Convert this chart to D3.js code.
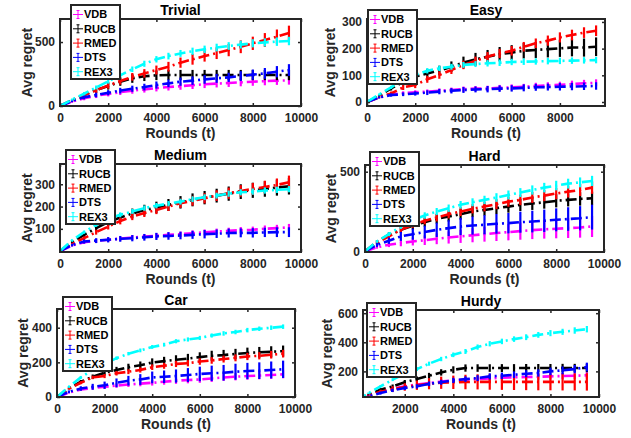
<!DOCTYPE html>
<html>
<head>
<meta charset="utf-8">
<script src="https://cdn.jsdelivr.net/npm/d3@7"></script>
<style>
body { margin: 0; background: #fff; }
text { font-family: "Liberation Sans", Arial, Helvetica, sans-serif; font-weight: bold; }
</style>
</head>
<body>
<svg id="fig" width="631" height="438"></svg>
<script>
"use strict";

// rounds at which the average regret was recorded
var rounds = [0, 500, 1000, 1500, 2000, 2500, 3000, 3500, 4000, 4500,
              5000, 5500, 6000, 6500, 7000, 7500, 8000, 8500, 9000, 9500];
var algorithms = ['VDB', 'RUCB', 'RMED', 'DTS', 'REX3'];

// one row per algorithm, same order as above
var trivialMean = [
    [0, 35, 60, 80, 95, 108, 120, 130, 140, 148, 155, 162, 170, 175, 180, 185, 190, 194, 198, 200],
    [0, 45, 86, 125, 156, 190, 216, 232, 240, 242, 242, 242, 242, 242, 242, 242, 242, 242, 242, 242],
    [0, 44, 85, 122, 160, 195, 228, 255, 281, 307, 339, 365, 391, 413, 437, 463, 490, 516, 542, 570],
    [0, 40, 68, 86, 104, 120, 135, 148, 164, 177, 190, 198, 208, 216, 224, 234, 245, 255, 268, 281],
    [0, 50, 96, 145, 193, 240, 287, 330, 365, 390, 411, 428, 443, 457, 469, 480, 490, 497, 503, 508]
];
var trivialErr = [
    [0, 10, 15, 18, 20, 22, 24, 25, 26, 27, 28, 29, 30, 30, 31, 31, 32, 32, 33, 33],
    [0, 10, 18, 24, 28, 32, 35, 37, 38, 40, 40, 40, 40, 40, 40, 40, 40, 40, 40, 40],
    [0, 10, 15, 20, 25, 28, 30, 33, 35, 38, 40, 42, 44, 46, 48, 50, 52, 54, 56, 58],
    [0, 10, 15, 18, 20, 22, 24, 26, 28, 30, 32, 33, 34, 35, 36, 38, 40, 42, 44, 46],
    [0, 8, 12, 15, 18, 20, 22, 24, 25, 26, 27, 28, 29, 30, 30, 31, 32, 32, 33, 33]
];

var easyMean = [
    [0, 18, 29, 33, 36, 39, 42, 45, 48, 50, 51, 53, 55, 57, 60, 62, 64, 67, 70, 72],
    [0, 22, 51, 75, 95, 107, 118, 132, 148, 160, 170, 179, 185, 192, 195, 198, 201, 204, 204, 207],
    [0, 18, 32, 55, 64, 85, 101, 120, 139, 154, 170, 182, 192, 207, 220, 230, 242, 251, 260, 267],
    [0, 17, 26, 29, 32, 35, 39, 42, 45, 47, 48, 50, 51, 53, 55, 56, 57, 58, 59, 60],
    [0, 28, 55, 82, 101, 117, 126, 132, 139, 142, 145, 147, 150, 151, 152, 153, 154, 155, 156, 157]
];
var easyErr = [
    [0, 4, 6, 7, 8, 8, 9, 9, 10, 10, 10, 11, 11, 11, 12, 12, 12, 13, 13, 13],
    [0, 5, 8, 12, 15, 17, 18, 20, 22, 24, 25, 27, 28, 29, 30, 31, 32, 33, 34, 35],
    [0, 4, 7, 10, 12, 13, 14, 15, 16, 16, 17, 17, 18, 18, 18, 19, 19, 20, 20, 20],
    [0, 4, 6, 7, 8, 9, 10, 10, 11, 11, 12, 12, 12, 13, 13, 13, 14, 14, 14, 14],
    [0, 4, 6, 8, 9, 10, 10, 11, 11, 11, 12, 12, 12, 12, 12, 12, 12, 12, 12, 12]
];

var mediumMean = [
    [0, 25, 40, 46, 51, 56, 61, 65, 69, 73, 76, 80, 84, 88, 91, 94, 96, 100, 103, 107],
    [0, 40, 73, 103, 130, 151, 169, 184, 196, 207, 219, 230, 240, 249, 258, 267, 273, 279, 285, 291],
    [0, 32, 58, 85, 110, 135, 155, 171, 185, 200, 215, 226, 237, 249, 260, 270, 279, 288, 297, 309],
    [0, 27, 43, 47, 51, 55, 58, 62, 66, 68, 70, 73, 76, 78, 81, 82, 82, 84, 85, 85],
    [0, 48, 85, 118, 145, 163, 178, 193, 204, 213, 222, 233, 242, 249, 258, 264, 267, 272, 275, 278]
];
var mediumErr = [
    [0, 5, 8, 9, 10, 10, 11, 11, 12, 12, 12, 13, 13, 13, 14, 14, 14, 15, 15, 15],
    [0, 6, 10, 14, 17, 20, 22, 24, 26, 27, 28, 29, 30, 31, 32, 33, 34, 35, 36, 37],
    [0, 5, 8, 11, 13, 15, 16, 18, 19, 20, 21, 22, 23, 24, 25, 26, 27, 28, 29, 30],
    [0, 6, 9, 11, 12, 13, 14, 15, 16, 17, 17, 18, 19, 19, 20, 20, 21, 21, 22, 22],
    [0, 4, 7, 9, 10, 11, 11, 12, 12, 12, 13, 13, 13, 13, 14, 14, 14, 14, 14, 14]
];

var hardMean = [
    [0, 25, 42, 52, 62, 70, 79, 87, 94, 101, 108, 115, 121, 127, 133, 138, 142, 146, 150, 156],
    [0, 60, 104, 135, 162, 183, 204, 219, 233, 250, 260, 271, 281, 292, 300, 308, 317, 323, 329, 333],
    [0, 55, 94, 135, 167, 192, 212, 233, 250, 267, 281, 296, 312, 323, 338, 350, 363, 375, 385, 400],
    [0, 40, 67, 94, 108, 121, 135, 146, 156, 162, 167, 173, 177, 183, 187, 192, 198, 203, 208, 215],
    [0, 62, 108, 156, 198, 225, 250, 271, 292, 308, 323, 338, 354, 369, 385, 400, 413, 425, 433, 442]
];
var hardErr = [
    [0, 8, 15, 20, 25, 30, 34, 38, 41, 44, 47, 50, 52, 54, 56, 58, 60, 62, 64, 66],
    [0, 10, 15, 20, 25, 28, 30, 32, 34, 35, 36, 37, 38, 39, 40, 40, 41, 41, 42, 42],
    [0, 8, 12, 16, 19, 22, 24, 26, 28, 29, 30, 31, 32, 33, 34, 35, 36, 37, 38, 39],
    [0, 12, 20, 28, 35, 40, 45, 50, 54, 57, 60, 62, 64, 66, 68, 70, 72, 74, 76, 78],
    [0, 8, 12, 15, 18, 20, 22, 23, 24, 25, 26, 27, 28, 28, 29, 30, 30, 31, 31, 32]
];

var carMean = [
    [0, 25, 43, 52, 59, 66, 72, 77, 82, 88, 94, 98, 101, 107, 113, 117, 121, 124, 127, 131],
    [0, 50, 88, 117, 140, 156, 172, 183, 199, 207, 215, 222, 230, 238, 242, 248, 254, 258, 261, 265],
    [0, 48, 82, 113, 121, 137, 146, 156, 172, 180, 191, 195, 205, 211, 219, 226, 234, 238, 244, 250],
    [0, 30, 49, 59, 68, 82, 94, 101, 113, 117, 121, 127, 133, 137, 140, 146, 150, 152, 156, 160],
    [0, 59, 113, 156, 191, 224, 250, 269, 289, 302, 322, 332, 341, 355, 367, 375, 386, 394, 400, 406]
];
var carErr = [
    [0, 5, 8, 10, 12, 13, 14, 15, 16, 17, 18, 19, 19, 20, 20, 21, 21, 22, 22, 23],
    [0, 6, 10, 13, 16, 18, 20, 22, 24, 25, 26, 27, 28, 29, 30, 30, 31, 31, 32, 32],
    [0, 5, 8, 10, 12, 13, 14, 15, 16, 17, 18, 18, 19, 19, 20, 20, 21, 21, 22, 22],
    [0, 8, 13, 17, 21, 25, 28, 31, 34, 36, 38, 40, 42, 44, 45, 46, 47, 48, 49, 50],
    [0, 5, 7, 8, 9, 10, 10, 11, 11, 11, 12, 12, 12, 12, 13, 13, 13, 13, 13, 13]
];

var hurdyMean = [
    [0, 35, 63, 82, 97, 110, 120, 130, 138, 143, 147, 152, 157, 159, 161, 163, 166, 168, 170, 173],
    [0, 40, 74, 97, 125, 147, 170, 193, 211, 223, 223, 223, 223, 223, 223, 223, 223, 223, 223, 223],
    [0, 33, 60, 78, 93, 105, 115, 122, 125, 127, 128, 128, 128, 128, 128, 128, 128, 128, 128, 128],
    [0, 28, 51, 70, 86, 97, 115, 125, 138, 147, 154, 166, 170, 177, 184, 189, 200, 207, 216, 230],
    [0, 50, 97, 143, 184, 216, 253, 285, 314, 337, 367, 390, 406, 422, 435, 451, 463, 472, 481, 490]
];
var hurdyErr = [
    [0, 6, 10, 12, 14, 15, 16, 17, 18, 18, 19, 19, 20, 20, 20, 21, 21, 21, 22, 22],
    [0, 6, 10, 13, 16, 18, 20, 22, 24, 25, 26, 26, 27, 27, 28, 28, 28, 29, 29, 29],
    [0, 8, 14, 20, 26, 32, 38, 42, 46, 50, 52, 54, 55, 56, 57, 58, 58, 59, 59, 60],
    [0, 6, 10, 12, 14, 15, 16, 17, 18, 19, 20, 21, 22, 23, 24, 25, 26, 27, 28, 30],
    [0, 5, 8, 10, 12, 13, 14, 15, 16, 17, 18, 18, 19, 19, 20, 20, 21, 21, 22, 22]
];

var colors = ['#ff00ff', '#000000', '#ff0000', '#0000ff', '#00ffff'];
var ink = '#262626';

// axes placement, limits and ticks of each subplot
var panels = [
    {title: 'Trivial', mean: trivialMean, err: trivialErr,
     box: [60, 301, 19, 106], xlim: [0, 10000], ylim: [0, 680],
     xticks: [0, 2000, 4000, 6000, 8000, 10000], yticks: [0, 500],
     legend: [71, 5], ylabelX: 32},
    {title: 'Easy', mean: easyMean, err: easyErr,
     box: [367, 605, 19, 106], xlim: [0, 9870], ylim: [-15, 311],
     xticks: [0, 2000, 4000, 6000, 8000], yticks: [0, 100, 200, 300],
     legend: [368, 10], ylabelX: 335},
    {title: 'Medium', mean: mediumMean, err: mediumErr,
     box: [60, 301, 164, 252], xlim: [0, 10000], ylim: [-4, 391],
     xticks: [0, 2000, 4000, 6000, 8000, 10000], yticks: [100, 200, 300],
     legend: [66, 150], ylabelX: 32},
    {title: 'Hard', mean: hardMean, err: hardErr,
     box: [365, 604, 165, 252], xlim: [0, 10000], ylim: [-4, 542],
     xticks: [0, 2000, 4000, 6000, 8000, 10000], yticks: [0, 500],
     legend: [370, 152], ylabelX: 336},
    {title: 'Car', mean: carMean, err: carErr,
     box: [57, 295, 309, 397], xlim: [0, 10000], ylim: [0, 508],
     xticks: [0, 2000, 4000, 6000, 8000, 10000], yticks: [0, 200, 400],
     legend: [63, 297], ylabelX: 28},
    {title: 'Hurdy', mean: hurdyMean, err: hurdyErr,
     box: [363, 599, 310, 397], xlim: [280, 10000], ylim: [24, 622],
     xticks: [2000, 4000, 6000, 8000, 10000], yticks: [200, 400, 600],
     legend: [367, 303], ylabelX: 332}
];

var svg = d3.select('#fig');
var fmt = d3.format('d');

// draw one subplot: error bars, dash-dot mean lines, axes and legend
function draw_panel(p, i) {
    var x = d3.scaleLinear().domain(p.xlim).range([p.box[0], p.box[1]]);
    var y = d3.scaleLinear().domain(p.ylim).range([p.box[3], p.box[2]]);
    var g = svg.append('g');

    g.append('clipPath').attr('id', 'clip' + i)
      .append('rect')
        .attr('x', p.box[0]).attr('y', p.box[2])
        .attr('width', p.box[1] - p.box[0])
        .attr('height', p.box[3] - p.box[2]);

    var plot = g.append('g').attr('clip-path', 'url(#clip' + i + ')');

    algorithms.forEach(function(name, k) {
        var pts = rounds.map(function(t, j) {
            return {t: t, m: p.mean[k][j], e: p.err[k][j]};
        });
        var s = plot.append('g');
        s.selectAll('line')
            .data(pts.slice(1))
          .enter().append('line')
            .attr('x1', function(d) { return x(d.t); })
            .attr('x2', function(d) { return x(d.t); })
            .attr('y1', function(d) { return y(d.m - d.e); })
            .attr('y2', function(d) { return y(d.m + d.e); })
            .style('stroke', colors[k])
            .style('stroke-width', 2.2);
        s.append('path')
            .datum(pts)
            .attr('d', d3.line()
                .x(function(d) { return x(d.t); })
                .y(function(d) { return y(d.m); }))
            .style('fill', 'none')
            .style('stroke', colors[k])
            .style('stroke-width', 2.6)
            .style('stroke-dasharray', '11,4,2,4');
    });

    var h = p.box[3] - p.box[2];
    var w = p.box[1] - p.box[0];

    var xb = g.append('g')
        .attr('transform', 'translate(0,' + p.box[3] + ')')
        .call(d3.axisBottom(x).tickValues(p.xticks).tickFormat(fmt)
            .tickSize(-3).tickPadding(7));
    var yl = g.append('g')
        .attr('transform', 'translate(' + p.box[0] + ',0)')
        .call(d3.axisLeft(y).tickValues(p.yticks).tickFormat(fmt)
            .tickSize(-3).tickPadding(5));
    var xt = g.append('g')
        .attr('transform', 'translate(0,' + p.box[2] + ')')
        .call(d3.axisTop(x).tickValues(p.xticks).tickSize(-3).tickFormat(''));
    var yr = g.append('g')
        .attr('transform', 'translate(' + p.box[1] + ',0)')
        .call(d3.axisRight(y).tickValues(p.yticks).tickSize(-3).tickFormat(''));

    [xb, yl, xt, yr].forEach(function(a) {
        a.select('.domain').remove();
        a.selectAll('line').style('stroke', ink).style('stroke-width', 1.5);
        a.selectAll('text').style('fill', ink).style('font-size', '12px');
    });

    g.append('rect')
        .attr('x', p.box[0]).attr('y', p.box[2])
        .attr('width', w).attr('height', h)
        .style('fill', 'none')
        .style('stroke', ink)
        .style('stroke-width', 2);

    var cx = (p.box[0] + p.box[1]) / 2;
    var cy = (p.box[2] + p.box[3]) / 2;

    g.append('text')
        .attr('x', cx).attr('y', p.box[2] - 4)
        .attr('text-anchor', 'middle')
        .style('font-size', '14px')
        .style('fill', '#000')
        .text(p.title);

    g.append('text')
        .attr('x', cx).attr('y', p.box[3] + 32)
        .attr('text-anchor', 'middle')
        .style('font-size', '14px')
        .style('fill', ink)
        .text('Rounds (t)');

    g.append('text')
        .attr('transform', 'translate(' + p.ylabelX + ',' + cy + ') rotate(-90)')
        .attr('text-anchor', 'middle')
        .style('font-size', '14px')
        .style('fill', ink)
        .text('Avg regret');

    // legend box with small errorbar glyphs
    var lg = g.append('g')
        .attr('transform', 'translate(' + p.legend[0] + ',' + p.legend[1] + ')');
    lg.append('rect')
        .attr('width', 49).attr('height', 74)
        .style('fill', '#fff')
        .style('stroke', ink)
        .style('stroke-width', 2);
    algorithms.forEach(function(name, k) {
        var ry = 9.5 + k * 14.3;
        var e = lg.append('g').style('stroke', colors[k]).style('stroke-width', 1);
        e.append('line').attr('x1', 2).attr('x2', 12).attr('y1', ry).attr('y2', ry);
        e.append('line').attr('x1', 7).attr('x2', 7).attr('y1', ry - 4).attr('y2', ry + 4);
        e.append('line').attr('x1', 5.5).attr('x2', 8.5).attr('y1', ry - 4).attr('y2', ry - 4);
        e.append('line').attr('x1', 5.5).attr('x2', 8.5).attr('y1', ry + 4).attr('y2', ry + 4);
        lg.append('text')
            .attr('x', 13).attr('y', ry)
            .attr('dy', '0.36em')
            .style('font-size', '11px')
            .style('fill', '#000')
            .text(name);
    });
}

panels.forEach(draw_panel);
</script>
</body>
</html>
